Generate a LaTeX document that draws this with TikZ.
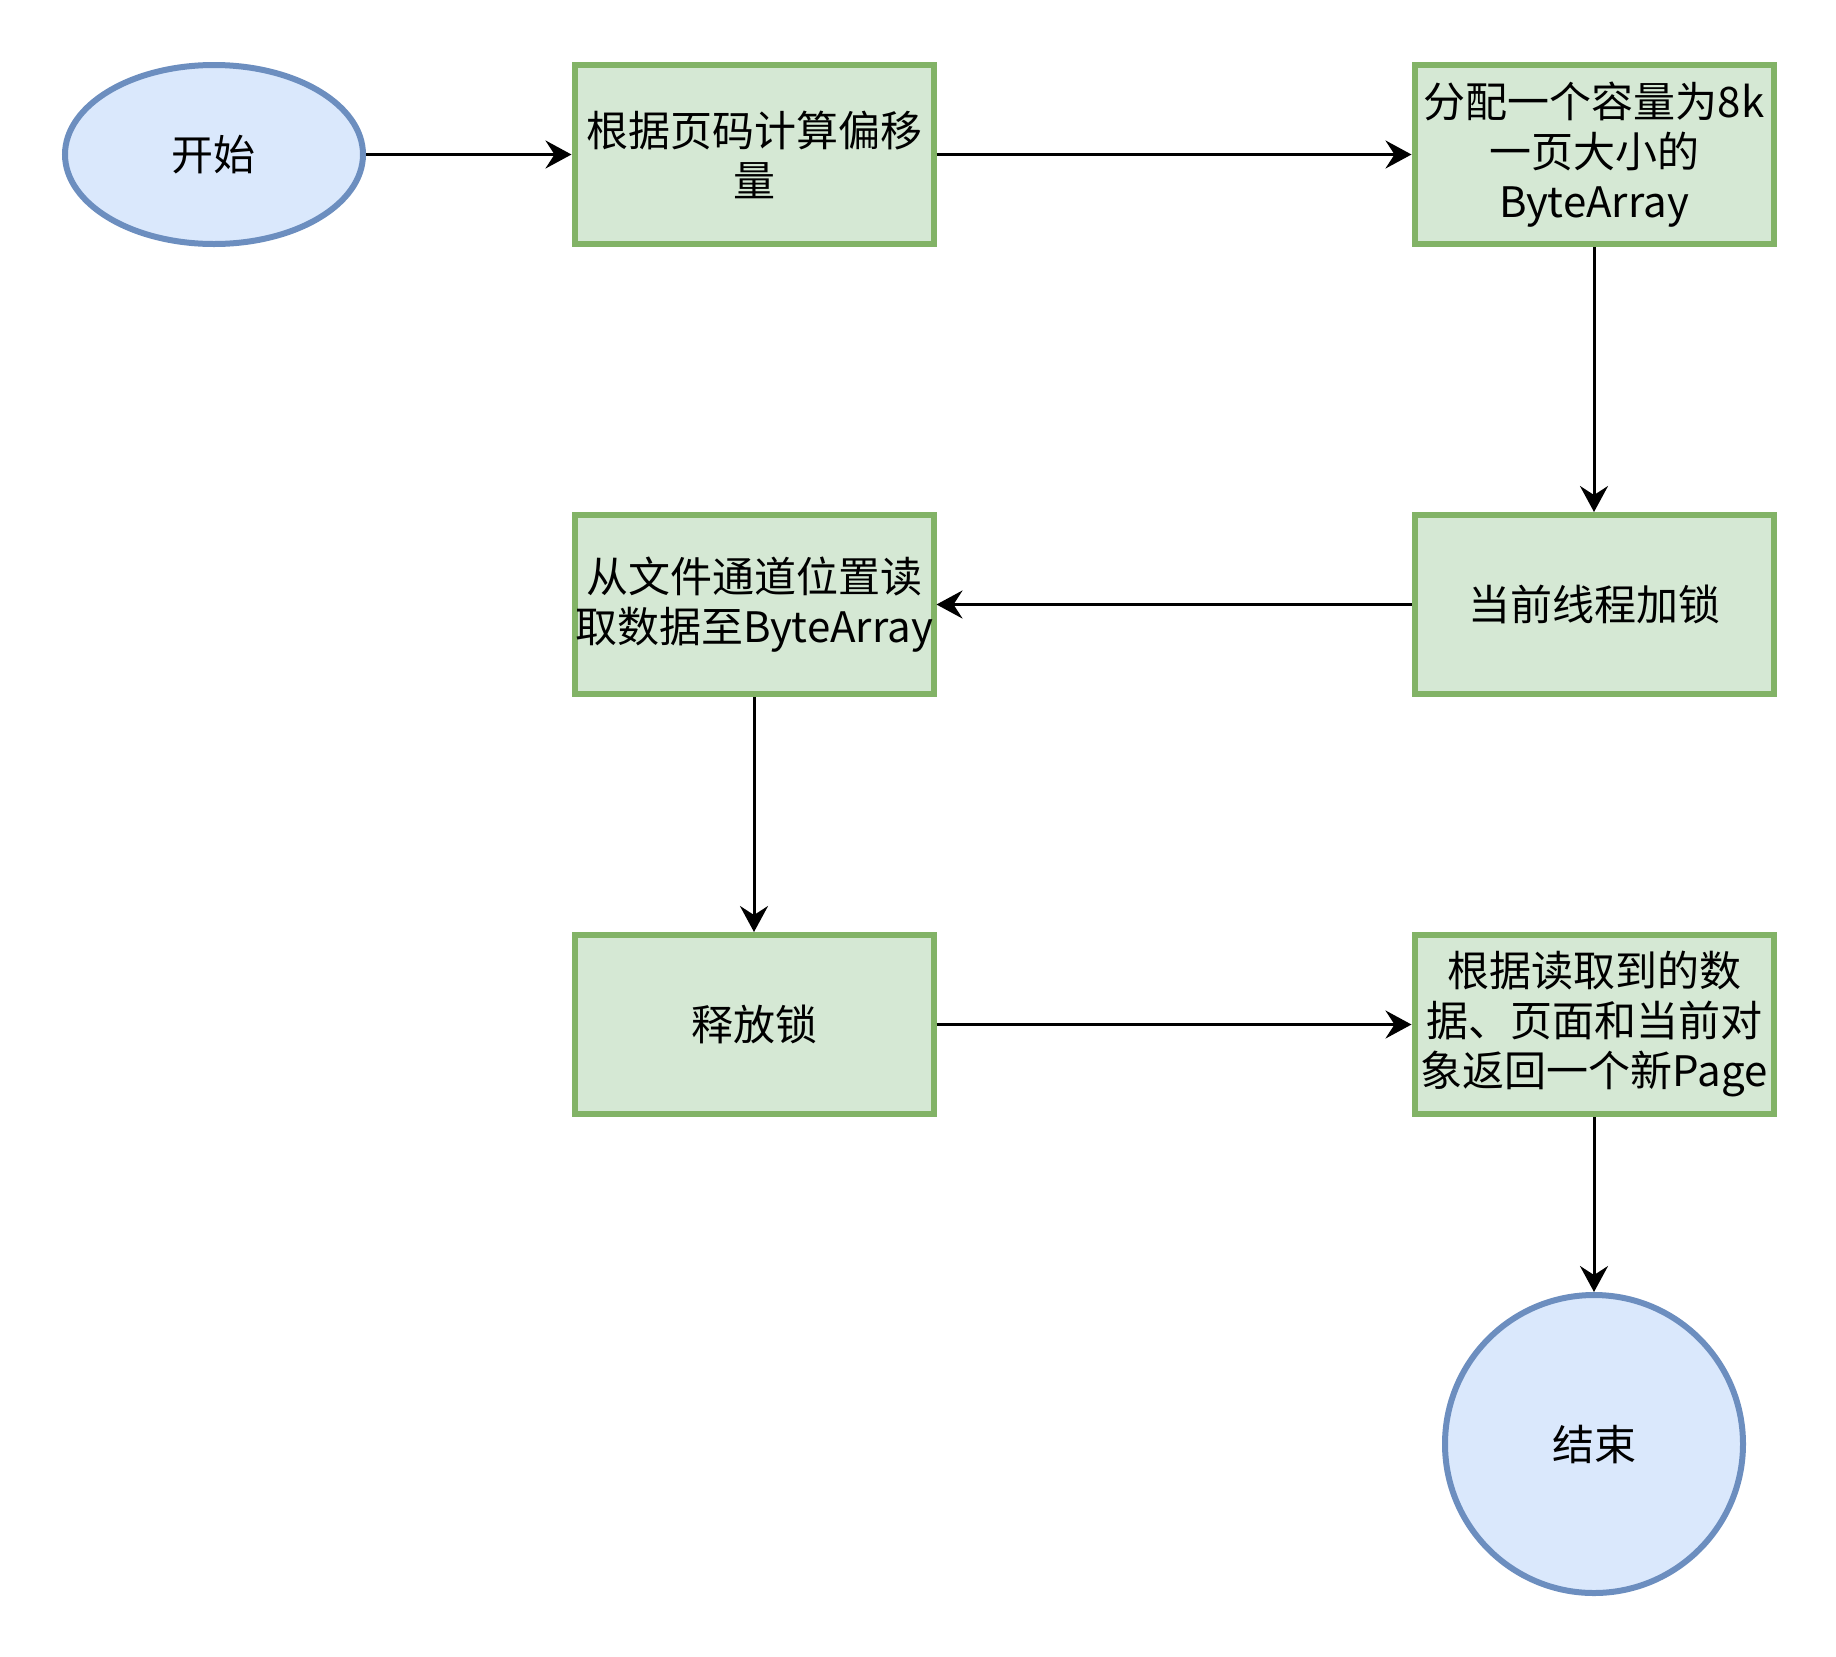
\documentclass[tikz,border=0pt]{standalone}
\usepackage{fontspec}
\newfontfamily\cjk{Noto Sans CJK SC}
\usepackage{xcolor}
\usetikzlibrary{arrows.meta,positioning,shapes.geometric}
\definecolor{stepfill}{HTML}{D5E8D4}
\definecolor{stepline}{HTML}{82B366}
\definecolor{termfill}{HTML}{DAE8FC}
\definecolor{termline}{HTML}{6C8EBF}

\begin{document}
\begin{tikzpicture}[
  font=\cjk\fontsize{21}{25}\selectfont,
  node distance=420pt, on grid,
  box/.style={draw=stepline, fill=stepfill, line width=3pt, align=center, minimum width=179.5pt, minimum height=89.5pt, inner xsep=0pt, inner ysep=2pt},
  term/.style={draw=termline, fill=termfill, line width=3pt, inner sep=0pt},
  arr/.style={line width=1.5pt, -{Stealth[length=13pt, width=14pt, inset=4.5pt]}}
]
\useasboundingbox (-107pt,77.25pt) rectangle (811pt,-750.75pt);
\node[term, ellipse, minimum width=149pt, minimum height=89.5pt] (start) {开始};
\node[box, right=270pt of start] (offset) {根据页码计算偏移\\量};
\node[box, right=of offset] (alloc) {分配一个容量为8k\\一页大小的\\ByteArray};
\node[box, below=225pt of alloc] (lock) {当前线程加锁};
\node[box, left=of lock] (read) {从文件通道位置读\\取数据至ByteArray};
\node[box, below=210pt of read] (unlock) {释放锁};
\node[box, right=of unlock] (page) {根据读取到的数\\据、页面和当前对\\象返回一个新Page};
\node[term, circle, minimum size=149pt, below=209.75pt of page] (end) {结束};
\draw[arr] (start) -- (offset);
\draw[arr] (offset) -- (alloc);
\draw[arr] (alloc) -- (lock);
\draw[arr] (lock) -- (read);
\draw[arr] (read) -- (unlock);
\draw[arr] (unlock) -- (page);
\draw[arr] (page) -- (end);
\end{tikzpicture}
\end{document}
